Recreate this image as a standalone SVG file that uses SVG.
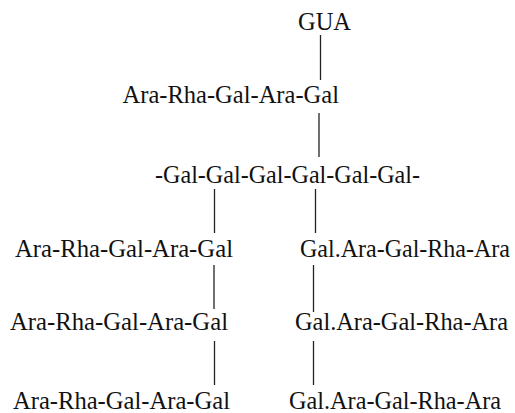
<svg xmlns="http://www.w3.org/2000/svg" width="515" height="413" viewBox="0 0 515 413">
  <style>
    .lbl { font-family: "Liberation Serif", "Times New Roman", serif; font-size: 26px; fill: #111; }
    .bond { stroke: #222; stroke-width: 1.3; fill: none; }
  </style>
  <rect width="515" height="413" fill="#fff"/>
  <g id="connectors">
    <line class="bond" x1="320.5" y1="35" x2="320.5" y2="80"/>
    <line class="bond" x1="319" y1="113" x2="319" y2="157"/>
    <line class="bond" x1="214.5" y1="189" x2="214.5" y2="233"/>
    <line class="bond" x1="315.5" y1="189" x2="315.5" y2="233"/>
    <line class="bond" x1="214" y1="265" x2="214" y2="309"/>
    <line class="bond" x1="313.5" y1="265" x2="313.5" y2="312"/>
    <line class="bond" x1="214.5" y1="341" x2="214.5" y2="385"/>
    <line class="bond" x1="313.5" y1="341" x2="313.5" y2="385"/>
  </g>
  <g id="gua"><text class="lbl" x="298" y="30" textLength="53" lengthAdjust="spacingAndGlyphs">GUA</text></g>
  <g id="side-chain-top"><text class="lbl" x="122.5" y="103" textLength="216.5" lengthAdjust="spacingAndGlyphs">Ara-Rha-Gal-Ara-Gal</text></g>
  <g id="backbone"><text class="lbl" x="155" y="183" textLength="265" lengthAdjust="spacingAndGlyphs">-Gal-Gal-Gal-Gal-Gal-Gal-</text></g>
  <g id="left-chain-1"><text class="lbl" x="15" y="257" textLength="218" lengthAdjust="spacingAndGlyphs">Ara-Rha-Gal-Ara-Gal</text></g>
  <g id="right-chain-1"><text class="lbl" x="300" y="257" textLength="210" lengthAdjust="spacingAndGlyphs">Gal.Ara-Gal-Rha-Ara</text></g>
  <g id="left-chain-2"><text class="lbl" x="10" y="330" textLength="218" lengthAdjust="spacingAndGlyphs">Ara-Rha-Gal-Ara-Gal</text></g>
  <g id="right-chain-2"><text class="lbl" x="295" y="330" textLength="213" lengthAdjust="spacingAndGlyphs">Gal.Ara-Gal-Rha-Ara</text></g>
  <g id="left-chain-3"><text class="lbl" x="13" y="409" textLength="217" lengthAdjust="spacingAndGlyphs">Ara-Rha-Gal-Ara-Gal</text></g>
  <g id="right-chain-3"><text class="lbl" x="289" y="409" textLength="212" lengthAdjust="spacingAndGlyphs">Gal.Ara-Gal-Rha-Ara</text></g>
</svg>
